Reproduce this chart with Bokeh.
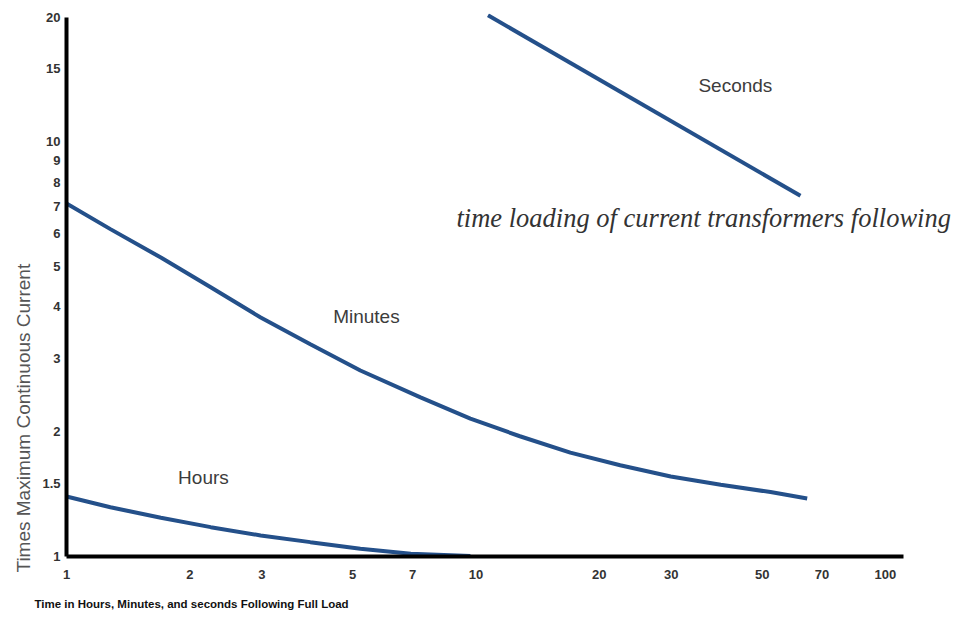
import math
from bokeh.plotting import figure
from bokeh.models import Label, FixedTicker, Title
from bokeh.embed import file_html
from bokeh.resources import INLINE

# ---- data ----
seconds_x = [10.7, 62.0]
seconds_y = [20.2, 7.41]

minutes_x = [1.0, 1.28, 1.70, 2.25, 2.98, 3.94, 5.22, 7.32, 9.69, 12.8, 17.0, 22.5, 29.9, 39.6, 52.4, 64.4]
minutes_y = [7.10, 6.16, 5.26, 4.46, 3.77, 3.25, 2.81, 2.42, 2.15, 1.95, 1.78, 1.66, 1.56, 1.49, 1.43, 1.38]

hours_x = [1.0, 1.28, 1.70, 2.25, 2.98, 3.94, 5.22, 6.93, 9.69]
hours_y = [1.395, 1.315, 1.24, 1.177, 1.124, 1.083, 1.044, 1.015, 1.003]

x_ticks = [1, 2, 3, 5, 7, 10, 20, 30, 50, 70, 100]
x_tick_labels = ["1", "2", "3", "5", "7", "10", "20", "30", "50", "70", "100"]
y_ticks = [1, 1.5, 2, 3, 4, 5, 6, 7, 8, 9, 10, 15, 20]
y_tick_labels = ["1", "1.5", "2", "3", "4", "5", "6", "7", "8", "9", "10", "15", "20"]

curve_labels = ["Seconds", "Minutes", "Hours"]
curve_label_x = [43.0, 5.40, 2.16]
curve_label_y = [13.7, 3.79, 1.55]

x_title = "Time in Hours, Minutes, and seconds Following Full Load"
y_title = "Times Maximum Continuous Current"
note = "time loading of current transformers following"

LINE = "#24508a"
TXT = "#3c3c3c"

p = figure(width=958, height=626, x_axis_type="log", y_axis_type="log",
           x_range=(1, 150.8), y_range=(1, 20.4),
           output_backend="svg", toolbar_location=None,
           min_border_left=66, min_border_right=0, min_border_top=13, min_border_bottom=70)
p.outline_line_color = None
p.xgrid.visible = False
p.ygrid.visible = False
p.background_fill_color = "white"
p.border_fill_color = "white"

for ax, ticks, labels in ((p.xaxis[0], x_ticks, x_tick_labels), (p.yaxis[0], y_ticks, y_tick_labels)):
    ax.ticker = FixedTicker(ticks=ticks)
    ax.major_label_overrides = {t: l for t, l in zip(ticks, labels)}
    ax.axis_line_color = "black"
    ax.axis_line_width = 4
    ax.major_tick_line_color = None
    ax.major_tick_out = 0
    ax.major_tick_in = 0
    ax.minor_tick_line_color = None
    ax.major_label_text_font = "Liberation Sans"
    ax.major_label_text_font_style = "bold"
    ax.major_label_text_font_size = "13px"
    ax.major_label_text_color = "#333333"

p.xaxis[0].bounds = (1, 110.7)
p.yaxis[0].bounds = (1, 20)
p.xaxis[0].major_label_standoff = 13
p.yaxis[0].major_label_standoff = 6

p.line(seconds_x, seconds_y, line_color=LINE, line_width=4)
p.line(minutes_x, minutes_y, line_color=LINE, line_width=4)
p.line(hours_x, hours_y, line_color=LINE, line_width=4)

for t, lx, ly in zip(curve_labels, curve_label_x, curve_label_y):
    p.add_layout(Label(x=lx, y=ly, text=t, text_align="center", text_baseline="middle",
                       text_font="Liberation Sans", text_font_size="19px", text_color=TXT))

p.add_layout(Label(x=390, y=339, x_units="screen", y_units="screen", text=note,
                   text_align="left", text_baseline="alphabetic",
                   text_font="Liberation Serif", text_font_style="italic",
                   text_font_size="26.5px", text_color="#333333"))

p.add_layout(Title(text=x_title, align="left", offset=-32, standoff=29,
                   text_font="Liberation Sans", text_font_style="bold",
                   text_font_size="11.5px", text_color="#111111"), "below")

p.add_layout(Title(text=y_title, align="left", offset=-16, standoff=12,
                   text_font="Liberation Sans", text_font_style="normal",
                   text_font_size="19px", text_color="#555555"), "left")

open("out.html", "w").write(file_html(p, INLINE))
